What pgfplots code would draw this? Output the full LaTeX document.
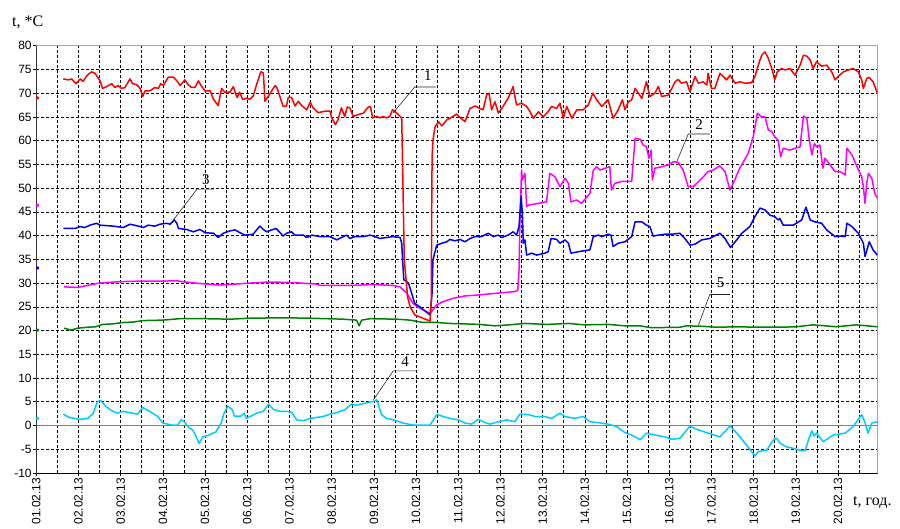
\documentclass[border=0pt]{standalone}
\usepackage{pgfplots}
\pgfplotsset{compat=1.18}
\usepackage{fontspec}
\setmainfont{Liberation Sans}
\newfontfamily\tnr{Liberation Serif}
\definecolor{cred}{RGB}{255,0,0}
\definecolor{cmag}{RGB}{255,0,255}
\definecolor{cblue}{RGB}{0,0,240}
\definecolor{cgreen}{RGB}{0,128,0}
\definecolor{ccyan}{RGB}{0,204,255}
\definecolor{zgray}{RGB}{128,128,128}
\begin{document}
\begin{tikzpicture}[x=1pt,y=1pt]
\useasboundingbox (-36.3,-55) rectangle (863.7,473);
\begin{axis}[at={(0,0)}, anchor=south west, width=841.4pt, height=427.3pt, scale only axis,
 xmin=1, xmax=20.94, ymin=-10, ymax=80,
 xtick={1,...,20},
 xticklabels={01.02.13,02.02.13,03.02.13,04.02.13,05.02.13,06.02.13,07.02.13,08.02.13,09.02.13,10.02.13,11.02.13,12.02.13,13.02.13,14.02.13,15.02.13,16.02.13,17.02.13,18.02.13,19.02.13,20.02.13},
 minor xtick={1.5,2,...,20.5},
 ytick={-10,-5,...,80},
 minor ytick={-5,0,...,75},
 xmajorgrids=false, ymajorgrids=false, xminorgrids=true, yminorgrids=true,
 minor grid style={black, line width=0.6pt, dash pattern=on 2.6pt off 2.4pt},
 minor tick length=0pt,
 major tick length=3pt,
 tick align=outside,
 tick pos=left,
 tick style={black, line width=0.6pt},
 axis line style={draw=black!35, line width=0.8pt},
 tick label style={font=\fontsize{12}{14}\selectfont},
 /pgf/number format/assume math mode=true,
 x tick label style={rotate=90, anchor=east, inner sep=1.5pt},
 y tick label style={inner sep=1.5pt},
 every axis plot/.append style={line width=1.5pt, line join=round},
]
\addplot[zgray, line width=1.8pt] coordinates {(1,0)(20.94,0)};

% 5 green
\addplot[cgreen] coordinates {(1.66,20.5)(1.82,20.1)(1.98,20.5)(2.22,20.7)(2.41,20.8)(2.57,21.3)(2.80,21.4)(3.05,21.7)(3.30,21.8)(3.52,22.1)(4.00,22.2)(4.39,22.5)(5.00,22.5)(5.60,22.4)(6.05,22.6)(6.85,22.7)(7.49,22.6)(8.27,22.4)(8.59,22.2)(8.65,21.0)(8.71,22.2)(8.91,22.5)(9.54,22.4)(9.86,22.2)(10.17,21.7)(10.49,21.7)(10.80,21.5)(11.16,21.4)(11.50,21.3)(11.87,21.0)(12.20,21.2)(12.58,21.5)(13.10,21.3)(13.61,21.5)(14.00,21.2)(14.55,21.3)(14.95,21.0)(15.30,21.0)(15.58,20.6)(16.25,20.7)(16.41,21.0)(16.80,20.9)(17.12,20.7)(17.60,20.8)(18.10,20.7)(18.62,20.7)(19.00,20.8)(19.41,21.2)(19.96,20.8)(20.43,21.2)(20.94,20.8)};

% 2 magenta
\addplot[cmag] coordinates {(1.66,29.2)(1.98,29.1)(2.26,29.6)(2.49,30.0)(2.97,30.3)(3.40,30.4)(4.00,30.4)(4.31,30.5)(4.47,30.3)(4.78,30.0)(5.30,29.6)(5.57,29.7)(6.05,30.0)(6.46,30.2)(6.70,30.2)(7.09,30.1)(7.64,29.8)(7.72,29.5)(8.43,29.5)(8.99,29.7)(9.46,29.5)(9.62,29.2)(9.78,27.9)(9.93,25.7)(10.09,24.7)(10.33,23.6)(10.49,25.4)(10.64,26.1)(10.88,26.8)(11.16,27.3)(11.47,27.5)(11.95,27.9)(12.34,28.2)(12.41,28.5)(12.44,32.8)(12.46,42.6)(12.50,53.8)(12.52,51.7)(12.58,53.1)(12.62,46.1)(12.66,46.4)(12.90,46.8)(13.09,47.1)(13.17,53.1)(13.29,52.4)(13.41,50.3)(13.53,52.1)(13.61,51.0)(13.67,47.1)(13.81,47.5)(13.92,46.8)(14.12,48.9)(14.20,53.8)(14.28,54.5)(14.36,53.8)(14.48,54.2)(14.59,54.5)(14.63,49.6)(14.71,51.0)(14.87,51.4)(15.11,51.4)(15.19,60.5)(15.31,60.3)(15.38,59.1)(15.46,58.7)(15.52,56.3)(15.57,58.0)(15.60,51.7)(15.66,54.2)(15.82,54.5)(15.98,54.9)(16.10,55.6)(16.21,55.4)(16.33,53.8)(16.45,50.3)(16.57,50.3)(16.65,51.0)(16.81,52.4)(16.92,53.5)(17.04,53.8)(17.20,54.7)(17.32,53.5)(17.44,49.6)(17.55,51.7)(17.67,54.2)(17.87,57.3)(17.99,60.8)(18.09,65.8)(18.19,65.0)(18.27,65.0)(18.35,62.2)(18.43,61.9)(18.50,60.8)(18.58,60.1)(18.64,56.6)(18.70,58.4)(18.86,58.0)(18.98,58.4)(19.10,58.7)(19.18,65.2)(19.26,64.7)(19.32,60.1)(19.38,57.0)(19.44,59.4)(19.49,58.7)(19.57,59.1)(19.64,54.2)(19.69,56.3)(19.81,54.9)(19.93,53.5)(20.05,53.5)(20.17,52.8)(20.21,58.4)(20.33,57.0)(20.45,54.5)(20.56,52.4)(20.60,50.3)(20.64,46.8)(20.68,51.0)(20.72,53.1)(20.80,52.1)(20.87,48.9)(20.93,47.9)};

% 3 blue
\addplot[cblue] coordinates {(1.64,41.5)(1.92,41.5)(2.04,41.9)(2.15,41.7)(2.27,42.2)(2.43,42.6)(2.51,42.2)(2.82,42.0)(3.06,41.7)(3.22,42.4)(3.42,42.0)(3.54,41.7)(3.65,42.2)(3.81,42.0)(3.93,42.4)(4.09,42.6)(4.17,42.4)(4.27,43.3)(4.33,42.6)(4.37,41.5)(4.56,41.3)(4.72,40.8)(4.88,41.3)(5.00,40.6)(5.20,40.5)(5.31,39.6)(5.43,40.5)(5.59,41.0)(5.71,41.2)(5.83,40.6)(5.95,40.1)(6.14,40.3)(6.22,41.2)(6.30,42.0)(6.38,41.3)(6.46,40.8)(6.58,41.2)(6.68,41.5)(6.78,40.6)(6.85,39.9)(6.93,40.5)(7.05,40.8)(7.13,40.1)(7.33,40.1)(7.41,39.6)(7.53,40.1)(7.72,39.8)(7.96,39.8)(8.12,39.1)(8.23,39.6)(8.35,40.1)(8.43,39.4)(8.55,39.8)(8.75,39.8)(8.91,40.1)(9.03,39.8)(9.14,39.4)(9.30,39.6)(9.46,39.8)(9.62,39.6)(9.66,38.4)(9.68,34.9)(9.71,30.7)(9.82,30.0)(9.97,25.7)(10.09,25.0)(10.33,23.3)(10.38,27.9)(10.40,34.9)(10.49,38.0)(10.61,38.4)(10.73,38.7)(10.80,39.2)(10.92,38.9)(11.04,39.2)(11.16,38.7)(11.28,39.4)(11.40,39.8)(11.55,39.8)(11.71,40.5)(11.83,39.8)(11.95,40.1)(12.03,39.6)(12.18,40.1)(12.30,40.8)(12.38,40.1)(12.44,41.9)(12.49,48.2)(12.52,44.7)(12.54,38.4)(12.58,39.1)(12.62,35.9)(12.74,36.3)(12.86,35.9)(13.05,36.3)(13.13,36.6)(13.20,39.4)(13.33,39.2)(13.41,38.4)(13.53,39.1)(13.61,38.4)(13.67,36.3)(13.84,36.6)(14.12,37.0)(14.20,39.8)(14.32,40.1)(14.40,39.8)(14.55,40.3)(14.62,40.1)(14.67,37.7)(14.79,38.4)(14.95,38.7)(15.11,39.8)(15.19,42.9)(15.35,42.9)(15.46,42.2)(15.54,41.9)(15.62,39.9)(15.74,40.1)(15.90,40.3)(16.06,40.3)(16.25,40.5)(16.37,39.4)(16.49,38.0)(16.61,38.2)(16.77,39.1)(16.96,39.4)(17.20,40.5)(17.32,39.4)(17.45,37.5)(17.60,39.1)(17.72,40.5)(17.91,41.9)(18.03,44.0)(18.15,45.8)(18.27,45.4)(18.39,44.3)(18.50,44.0)(18.58,43.3)(18.62,43.6)(18.70,42.2)(18.94,42.2)(19.14,43.3)(19.24,46.0)(19.34,43.3)(19.45,42.9)(19.61,42.6)(19.73,41.2)(19.93,39.8)(20.05,39.9)(20.17,39.8)(20.21,42.6)(20.33,41.9)(20.48,40.5)(20.60,38.4)(20.64,35.6)(20.74,38.7)(20.83,37.0)(20.93,35.9)};

% 1 red
\addplot[cred] coordinates {(1.64,73.0)(1.76,72.8)(1.84,73.0)(1.94,72.0)(2.04,73.0)(2.11,72.5)(2.21,73.8)(2.31,74.5)(2.39,74.2)(2.51,72.6)(2.57,71.0)(2.67,71.4)(2.79,72.0)(2.86,71.2)(2.94,71.6)(3.02,71.0)(3.10,71.2)(3.22,73.0)(3.28,72.0)(3.38,71.8)(3.46,71.0)(3.52,69.3)(3.58,70.5)(3.69,70.5)(3.81,71.2)(3.89,71.0)(3.95,72.0)(4.01,71.6)(4.13,73.4)(4.25,73.4)(4.33,72.6)(4.41,71.6)(4.52,72.8)(4.60,71.8)(4.68,71.2)(4.76,71.2)(4.84,72.6)(4.92,71.4)(5.00,70.5)(5.12,70.5)(5.20,68.7)(5.31,67.4)(5.39,71.0)(5.47,70.2)(5.59,70.2)(5.67,71.4)(5.71,70.2)(5.76,69.1)(5.82,70.2)(5.89,68.7)(5.98,68.9)(6.06,68.7)(6.14,69.4)(6.22,71.8)(6.32,74.5)(6.38,74.3)(6.42,68.3)(6.50,69.4)(6.58,70.5)(6.66,71.6)(6.70,71.2)(6.78,69.1)(6.85,67.2)(6.93,67.3)(6.97,69.1)(7.05,69.1)(7.13,67.3)(7.21,68.3)(7.29,67.4)(7.41,66.5)(7.49,68.1)(7.56,66.9)(7.68,65.9)(7.84,66.2)(7.96,66.2)(8.00,64.8)(8.09,63.4)(8.15,64.4)(8.23,66.9)(8.31,65.1)(8.37,67.1)(8.43,66.9)(8.51,65.1)(8.63,65.5)(8.75,65.8)(8.87,67.1)(8.92,67.1)(8.97,64.8)(9.07,65.1)(9.14,64.8)(9.22,65.1)(9.30,64.8)(9.38,65.1)(9.44,66.5)(9.54,65.8)(9.62,65.1)(9.66,64.7)(9.69,50.0)(9.72,35.0)(9.80,27.0)(9.86,25.0)(9.97,23.3)(10.33,22.0)(10.36,26.0)(10.37,45.0)(10.38,56.6)(10.40,60.1)(10.45,62.9)(10.53,64.0)(10.61,63.1)(10.73,64.4)(10.84,64.9)(10.96,65.6)(11.04,64.9)(11.16,64.0)(11.28,66.8)(11.40,67.3)(11.51,66.8)(11.59,66.5)(11.67,69.6)(11.73,70.0)(11.79,66.5)(11.87,68.2)(11.95,65.8)(12.03,66.8)(12.18,68.9)(12.30,71.4)(12.38,67.5)(12.50,67.9)(12.62,67.2)(12.70,66.1)(12.78,64.7)(12.90,66.1)(13.01,65.0)(13.13,66.1)(13.21,67.2)(13.33,66.8)(13.41,67.9)(13.49,64.7)(13.57,67.2)(13.69,64.7)(13.81,66.5)(13.96,66.5)(14.08,67.5)(14.19,70.0)(14.28,68.6)(14.40,67.2)(14.55,68.6)(14.67,64.7)(14.79,66.5)(14.89,68.6)(14.95,66.5)(15.03,68.2)(15.11,68.6)(15.19,71.0)(15.27,70.0)(15.35,68.9)(15.46,72.4)(15.54,69.3)(15.66,70.0)(15.74,71.4)(15.82,69.3)(15.98,69.6)(16.06,71.0)(16.14,72.4)(16.21,72.9)(16.29,72.1)(16.41,72.4)(16.49,70.3)(16.61,73.5)(16.69,72.1)(16.81,72.4)(16.89,71.7)(16.92,74.2)(17.00,71.0)(17.08,71.0)(17.20,74.2)(17.28,73.5)(17.36,72.8)(17.44,73.8)(17.56,72.1)(17.68,72.4)(17.79,72.1)(17.95,72.2)(18.03,73.5)(18.11,75.9)(18.19,78.0)(18.27,78.7)(18.35,77.3)(18.43,75.2)(18.50,72.8)(18.56,74.5)(18.66,75.2)(18.74,74.9)(18.86,75.2)(18.98,73.8)(19.10,75.9)(19.18,78.0)(19.26,77.8)(19.34,77.0)(19.41,75.2)(19.49,76.6)(19.61,75.7)(19.73,75.9)(19.85,74.5)(19.93,72.8)(20.01,73.6)(20.13,74.5)(20.25,74.9)(20.36,75.2)(20.48,74.5)(20.56,72.8)(20.60,71.0)(20.68,73.1)(20.74,73.3)(20.83,72.4)(20.93,70.1)};

% 4 cyan
\addplot[ccyan] coordinates {(1.64,2.4)(1.78,1.7)(2.02,1.3)(2.22,1.5)(2.35,2.6)(2.45,5.1)(2.53,5.2)(2.65,4.0)(2.81,3.0)(2.93,2.6)(3.05,3.0)(3.28,2.6)(3.40,2.4)(3.52,3.8)(3.68,3.0)(3.88,1.9)(4.00,0.5)(4.11,0.3)(4.23,0.1)(4.35,0.1)(4.43,1.2)(4.51,0.8)(4.59,-0.2)(4.71,-1.0)(4.78,-2.2)(4.86,-3.8)(4.94,-2.4)(5.10,-2.0)(5.26,-1.3)(5.38,0.5)(5.45,2.6)(5.54,4.1)(5.65,3.3)(5.69,2.0)(5.85,2.0)(5.93,2.6)(5.97,1.5)(6.09,2.0)(6.22,2.6)(6.38,3.0)(6.50,4.5)(6.62,3.4)(6.77,3.0)(6.93,3.0)(7.05,2.8)(7.17,1.2)(7.33,1.0)(7.49,1.5)(7.64,1.7)(7.80,1.9)(7.96,2.4)(8.08,2.6)(8.20,3.0)(8.31,3.3)(8.47,4.5)(8.59,4.3)(8.79,4.7)(8.99,5.1)(9.07,5.4)(9.18,2.3)(9.30,1.5)(9.46,1.2)(9.70,0.5)(9.93,0.1)(10.33,0.1)(10.49,2.3)(10.61,2.0)(10.80,1.5)(11.00,1.2)(11.16,0.5)(11.32,0.3)(11.47,1.3)(11.59,0.8)(11.75,0.3)(11.95,0.8)(12.15,1.2)(12.34,0.8)(12.46,2.4)(12.66,2.3)(12.82,1.9)(13.05,1.9)(13.21,1.5)(13.41,2.6)(13.53,1.9)(13.76,1.5)(13.96,1.9)(14.12,0.8)(14.32,0.6)(14.55,0.3)(14.75,-0.2)(14.95,-1.5)(15.11,-2.0)(15.31,-3.0)(15.46,-1.6)(15.66,-2.0)(15.90,-2.4)(16.06,-2.9)(16.25,-2.7)(16.41,-1.0)(16.49,-0.1)(16.65,-0.8)(16.89,-1.5)(17.20,-2.4)(17.44,-0.1)(17.60,-1.6)(17.83,-4.1)(18.03,-6.4)(18.11,-5.5)(18.31,-5.2)(18.47,-3.0)(18.55,-2.7)(18.62,-3.7)(18.78,-4.5)(18.94,-4.8)(19.10,-5.2)(19.22,-5.3)(19.30,-3.0)(19.38,-1.1)(19.43,-2.2)(19.49,-1.6)(19.65,-3.4)(19.89,-2.0)(20.17,-1.6)(20.36,-0.2)(20.56,2.3)(20.64,0.6)(20.71,-1.6)(20.80,0.5)(20.93,0.8)};

% stray first readings
\addplot[only marks, mark=*, mark size=1pt, cred] coordinates {(1.03,69.0)};
\addplot[only marks, mark=*, mark size=1pt, cmag] coordinates {(1.03,46.4)};
\addplot[only marks, mark=*, mark size=1pt, cblue] coordinates {(1.03,33.2)};
\addplot[only marks, mark=*, mark size=1pt, cgreen] coordinates {(1.03,20.1)};
\addplot[only marks, mark=*, mark size=1pt, ccyan] coordinates {(1.03,1.5)};

\draw[black, line width=0.8pt] (rel axis cs:0,1) -- (rel axis cs:0,0) -- (rel axis cs:1,0);

\begin{scope}[black!85, line width=0.6pt]
\draw (axis cs:10.47,71.3) -- (axis cs:9.97,71.3) -- (axis cs:9.45,65.8);
\draw (axis cs:5.21,49.8) -- (axis cs:4.81,49.8) -- (axis cs:4.24,43.2);
\draw (axis cs:16.96,61.4) -- (axis cs:16.45,61.4) -- (axis cs:16.18,55.6);
\draw (axis cs:10.00,11.5) -- (axis cs:9.46,11.5) -- (axis cs:8.99,5.4);
\draw (axis cs:17.44,27.6) -- (axis cs:16.96,27.6) -- (axis cs:16.69,21.1);
\end{scope}
\begin{scope}[every node/.style={font=\tnr\fontsize{15}{17}\selectfont, inner sep=0pt}]
\node at (axis cs:10.28,73.8) {1};
\node at (axis cs:16.71,63.3) {2};
\node at (axis cs:5.02,51.7) {3};
\node at (axis cs:9.74,13.4) {4};
\node at (axis cs:17.22,30.0) {5};
\end{scope}
\end{axis}
\node[anchor=base west, inner sep=0pt, font=\tnr\fontsize{16}{18}\selectfont] at (-24.3,446) {t, *C};
\node[anchor=base west, inner sep=0pt, font=\tnr\fontsize{16}{18}\selectfont] at (816.7,-32) {t, год.};
\end{tikzpicture}
\end{document}
